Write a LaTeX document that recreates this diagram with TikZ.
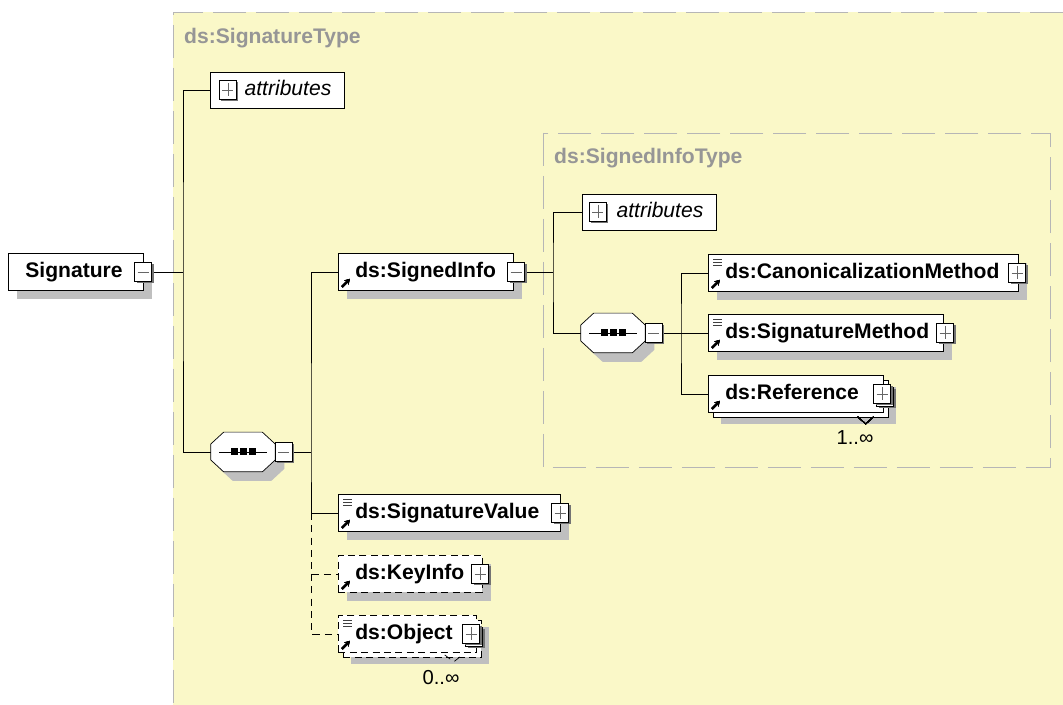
\documentclass[tikz,border=0pt]{standalone}
\usepackage{fontspec}
\setmainfont{Liberation Sans}
\usetikzlibrary{shadows,arrows.meta}

\definecolor{typeyellow}{RGB}{250,248,200}
\definecolor{typegrey}{RGB}{150,150,150}
\newcommand{\lbl}{\fontsize{12}{14}\selectfont}

% +/- box: position, 0 minus / 1 plus / 2 plus twice, name of its right end
\newcommand{\pmbox}[3]{%
  \begin{scope}[shift={(#1)}]
    \ifnum#2=2 \fill[black!55] (-4,-5) rectangle (13,14); \draw[fill=white] (-6,-7) rectangle (11,12); \fi
    \fill[black!55] (-7,-8) rectangle (10,11);
    \draw[fill=white] (-9,-10) rectangle (8,9);
    \draw[black!60] (-6,0) -- (5,0);
    \ifnum#2>0 \draw[black!60] (0,-7) -- (0,6); \fi
    \coordinate (#3) at (10,0);
  \end{scope}}
\newcommand{\doclines}[1]{%
  \foreach \k in {5,8,11}
    \draw[black!75] ([shift={(5,\k)}]#1.north west) -- ([shift={(14,\k)}]#1.north west);}
\newcommand{\refarrow}[1]{%
  \draw[line width=1.2pt,-{Stealth[length=3pt,width=3.5pt]}] ([shift={(4,-4)}]#1.south west) -- ([shift={(12,-12)}]#1.south west);}
% ottagono della sequenza
\newcommand{\octpath}[1]{([shift={(13,0)}]#1.north west) -- ([shift={(-13,0)}]#1.north east)
  -- ([shift={(0,12)}]#1.north east) -- ([shift={(0,-12)}]#1.south east)
  -- ([shift={(-13,0)}]#1.south east) -- ([shift={(13,0)}]#1.south west)
  -- ([shift={(0,-12)}]#1.south west) -- ([shift={(0,12)}]#1.north west) -- cycle}
\newcommand{\seqmark}[1]{%
  \fill[black!25, transform canvas={shift={(0.18cm,-0.18cm)}}] \octpath{#1};
  \draw[fill=white] \octpath{#1};
  \draw ([shift={(-24,0)}]#1.center) -- ([shift={(24,0)}]#1.center);
  \foreach \k in {-9,0,9}
    \fill ([shift={(\k-3.5,-3.5)}]#1.center) rectangle ([shift={(\k+3.5,3.5)}]#1.center);}

\begin{document}
\begin{tikzpicture}[x=0.02cm, y=-0.02cm,
    elem/.style={draw, fill=white, anchor=west, minimum height=0.74cm, inner xsep=0.34cm,
      text height=8.5pt, text depth=2.5pt, align=left, font=\lbl\bfseries},
    optional/.style={elem, dash pattern=on 4pt off 2.5pt},
    shad/.style={general shadow={fill=black!25, shadow xshift=0.18cm, shadow yshift=-0.18cm}},
    stacked/.style={general shadow={fill=black!25, shadow xshift=0.26cm, shadow yshift=-0.24cm},
      general shadow={fill=white, draw=black, shadow xshift=0.1cm, shadow yshift=-0.1cm}},
    attr/.style={draw, fill=white, anchor=west, minimum height=0.72cm, inner xsep=0.26cm,
      text width=2.16cm, align=right, text height=8.5pt, text depth=2.5pt, font=\lbl\itshape},
    seq/.style={minimum width=1.28cm, minimum height=0.78cm, inner sep=0pt},
    typename/.style={anchor=west, text=typegrey, font=\lbl\bfseries},
    mult/.style={font=\fontsize{11.5}{13}\selectfont},
    opt/.style={dash pattern=on 4pt off 3pt}]

  % Sfondo e tipi
  \useasboundingbox[fill=white] (0,0) rectangle (1063,705);
  \fill[typeyellow] (173,12) rectangle (1063,705);
  \draw[typegrey!70, dash pattern=on 0.66cm off 0.2cm] (1063,12) -- (173,12) -- (173,705);
  \draw[typegrey!70, dash pattern=on 0.66cm off 0.2cm] (543,133) rectangle (1050,467);
  \node[typename] (sigtype) at (178,38) {ds:SignatureType};
  \node[typename] (infotype) at (548,158) {ds:SignedInfoType};

  % Elementi
  \node[elem, shad, text width=2.02cm] (sig) at (8,272) {Signature};
  \node[attr] (att1) at (210,90) {attributes};
  \node[seq] (seq1) at (243,452) {};
  \node[elem, shad, text width=2.82cm] (sinfo) at (338,272) {ds:SignedInfo};
  \node[elem, shad, text width=3.76cm] (sval) at (338,513) {ds:SignatureValue};
  \node[optional, shad, text width=2.2cm] (kinfo) at (338,574) {ds:KeyInfo};
  \node[optional, stacked, text width=2.08cm] (obj) at (338,634) {ds:Object};
  \node[mult] (objmult) at (441,678) {0..∞};

  % Dentro SignedInfoType
  \node[attr] (att2) at (582,212) {attributes};
  \node[seq] (seq2) at (613,333) {};
  \node[elem, shad, text width=5.52cm] (canon) at (708,273) {ds:CanonicalizationMethod};
  \node[elem, shad, text width=4.02cm] (smeth) at (708,333) {ds:SignatureMethod};
  \node[elem, stacked, text width=2.82cm] (ref) at (708,394) {ds:Reference};
  \node[mult] (refmult) at (855,438) {1..∞};

  % Icone
  \seqmark{seq1}
  \seqmark{seq2}
  \pmbox{sig.east}{0}{sig-out}
  \pmbox{[shift={(3,0)}]sinfo.east}{0}{sinfo-out}
  \pmbox{[shift={(9,0)}]seq1.east}{0}{seq1-out}
  \pmbox{[shift={(9,0)}]seq2.east}{0}{seq2-out}
  \pmbox{sval.east}{1}{sval-out}
  \pmbox{[shift={(-2,0)}]kinfo.east}{1}{kinfo-out}
  \pmbox{[shift={(-5,0)}]obj.east}{2}{obj-out}
  \pmbox{[shift={(-1,0)}]canon.east}{1}{canon-out}
  \pmbox{[shift={(2,0)}]smeth.east}{1}{smeth-out}
  \pmbox{[shift={(-1,0)}]ref.east}{2}{ref-out}
  \pmbox{[shift={(18,0)}]att1.west}{1}{att1-in}
  \pmbox{[shift={(16,0)}]att2.west}{1}{att2-in}
  \foreach \e in {sval,canon,smeth,obj} \doclines{\e}
  \foreach \e in {sinfo,sval,kinfo,obj,canon,smeth,ref} \refarrow{\e}
  \draw ([shift={(-26,4)}]ref.south east) -- ([shift={(-18,11)}]ref.south east) -- ([shift={(-10,4)}]ref.south east);
  \draw[opt] ([shift={(-32,2)}]obj.south east) -- ([shift={(-23,9)}]obj.south east) -- ([shift={(-14,2)}]obj.south east);

  % Collegamenti
  \coordinate (j1) at (183,272);
  \coordinate (j2) at (311,452);
  \coordinate (j3) at (553,272);
  \coordinate (j4) at (681,333);
  \draw (sig-out) -- (j1);
  \draw (att1.west) -| (j1) |- (seq1.west);
  \draw (seq1-out) -- (j2);
  \draw (sinfo.west) -| (j2) |- (sval.west);
  \draw[opt] (sval.west -| j2) |- (kinfo.west);
  \draw[opt] (kinfo.west -| j2) |- (obj.west);
  \draw (sinfo-out) -- (j3);
  \draw (att2.west) -| (j3) |- (seq2.west);
  \draw (seq2-out) -- (j4);
  \draw (canon.west) -| (j4) |- (ref.west);
  \draw (j4) -- (smeth.west);
\end{tikzpicture}
\end{document}
